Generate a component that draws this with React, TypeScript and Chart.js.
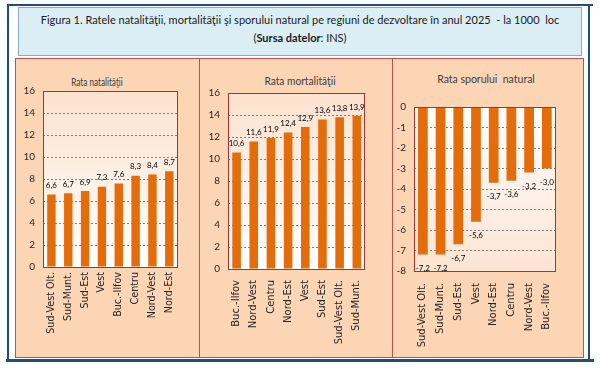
import React, { useEffect, useRef } from 'react';
import { Chart, registerables } from 'chart.js';
Chart.register(...registerables);

const birthRegions = ['Sud-Vest Olt.', 'Sud-Munt.', 'Sud-Est', 'Vest', 'Buc.-Ilfov', 'Centru', 'Nord-Vest', 'Nord-Est'];
const birthRates = [6.6, 6.7, 6.9, 7.3, 7.6, 8.3, 8.4, 8.7];
const deathRegions = ['Buc.-Ilfov', 'Nord-Vest', 'Centru', 'Nord-Est', 'Vest', 'Sud-Est', 'Sud-Vest Olt.', 'Sud-Munt.'];
const deathRates = [10.6, 11.6, 11.9, 12.4, 12.9, 13.6, 13.8, 13.9];
const growthRegions = ['Sud-Vest Olt.', 'Sud-Munt.', 'Sud-Est', 'Vest', 'Nord-Est', 'Centru', 'Nord-Vest', 'Buc.-Ilfov'];
const growthRates = [-7.2, -7.2, -6.7, -5.6, -3.7, -3.6, -3.2, -3.0];

const mainTitle = 'Figura 1. Ratele natalităţii, mortalităţii şi sporului natural pe regiuni de dezvoltare în anul 2025  - la 1000  loc';
const panelTitles = ['Rata natalităţii', 'Rata mortalităţii', 'Rata sporului  natural'];

const FONT = '"Lato", "Liberation Sans", sans-serif';
const CAT_FONT = '"DejaVu Sans", sans-serif';
const BAR = '#E46C0A';
const PANEL_BG = '#FCD5B4';
const PANEL_BORDER = '#C0504D';

const fmt = (v: number) => v.toFixed(1).replace('.', ',');

type Cfg = {
  labels: string[];
  values: number[];
  min: number;
  max: number;
  step: number;
  barPct: number;
  padTop: number;
  padRight: number;
  yWidth: number;
  xHeight: number;
  xPad: number;
  catSize: number;
  gradTopWhite: boolean;
};

const plotPlugin = {
  id: 'plotDecor',
  beforeDraw(chart: any, _a: any, opts: any) {
    const { ctx, chartArea: a } = chart;
    const g = ctx.createLinearGradient(0, a.top, 0, a.bottom);
    if (opts.topWhite) {
      g.addColorStop(0, '#FFFFFF');
      g.addColorStop(1, '#FCE4D2');
    } else {
      g.addColorStop(0, '#FCE2CE');
      g.addColorStop(1, '#FFFFFF');
    }
    ctx.save();
    ctx.fillStyle = g;
    ctx.fillRect(a.left, a.top, a.right - a.left, a.bottom - a.top);
    ctx.restore();
  },
  afterDatasetsDraw(chart: any) {
    const { ctx, chartArea: a } = chart;
    ctx.save();
    ctx.strokeStyle = '#A8322D';
    ctx.lineWidth = 1;
    ctx.strokeRect(Math.round(a.left) + 0.5, Math.round(a.top) + 0.5, Math.round(a.right - a.left) - 1, Math.round(a.bottom - a.top));
    const meta = chart.getDatasetMeta(0);
    const data = chart.data.datasets[0].data as number[];
    ctx.fillStyle = '#000';
    ctx.font = '8px ' + FONT;
    ctx.textAlign = 'center';
    ctx.textBaseline = 'middle';
    meta.data.forEach((el: any, i: number) => {
      const v = data[i];
      const y = v >= 0 ? el.y - 9 : el.y + 14;
      ctx.fillText(fmt(v), el.x, y);
    });
    ctx.restore();
  },
};

function BarPanel({ cfg, left, top, width, height }: { cfg: Cfg; left: number; top: number; width: number; height: number }) {
  const ref = useRef<HTMLCanvasElement>(null);
  useEffect(() => {
    if (!ref.current) return;
    const chart = new Chart(ref.current, {
      type: 'bar',
      data: {
        labels: cfg.labels,
        datasets: [
          {
            data: cfg.values,
            backgroundColor: BAR,
            borderWidth: 0,
            barPercentage: cfg.barPct,
            categoryPercentage: 1,
          },
        ],
      },
      plugins: [plotPlugin],
      options: {
        animation: false,
        responsive: false,
        maintainAspectRatio: false,
        layout: { padding: { top: cfg.padTop, right: cfg.padRight, left: 0, bottom: 0 } },
        plugins: {
          legend: { display: false },
          tooltip: { enabled: false },
          title: { display: false },
          plotDecor: { topWhite: cfg.gradTopWhite },
        } as any,
        scales: {
          x: {
            grid: { display: false, drawTicks: false },
            border: { display: false },
            ticks: {
              minRotation: 90,
              maxRotation: 90,
              autoSkip: false,
              padding: cfg.xPad,
              color: '#262626',
              font: { family: CAT_FONT, size: cfg.catSize },
            },
            afterFit: (s: any) => {
              s.height = cfg.xHeight;
            },
          },
          y: {
            min: cfg.min,
            max: cfg.max,
            ticks: {
              stepSize: cfg.step,
              padding: 8,
              color: '#262626',
              font: { family: FONT, size: 10 },
            },
            grid: { color: '#7F7F7F', drawTicks: false, lineWidth: 1 },
            border: { display: false, dash: [2, 2] },
            afterFit: (s: any) => {
              s.width = cfg.yWidth;
            },
          },
        },
      } as any,
    });
    return () => chart.destroy();
  }, []);
  return (
    <canvas
      ref={ref}
      width={width}
      height={height}
      style={{ position: 'absolute', left, top, width, height }}
    />
  );
}

const abs = (l: number, t: number, w: number, h: number, extra: any = {}) => ({
  position: 'absolute' as const,
  left: l,
  top: t,
  width: w,
  height: h,
  boxSizing: 'border-box' as const,
  ...extra,
});

export default function App() {
  const c1: Cfg = { labels: birthRegions, values: birthRates, min: 0, max: 16, step: 2, barPct: 0.5, padTop: 31, padRight: 3, yWidth: 32, xHeight: 88, xPad: 5, catSize: 9.6, gradTopWhite: false };
  const c2: Cfg = { labels: deathRegions, values: deathRates, min: 0, max: 16, step: 2, barPct: 0.5, padTop: 33, padRight: 3, yWidth: 28, xHeight: 86, xPad: 11, catSize: 10, gradTopWhite: false };
  const c3: Cfg = { labels: growthRegions, values: growthRates, min: -8, max: 0, step: 1, barPct: 0.55, padTop: 47, padRight: 3, yWidth: 21, xHeight: 84, xPad: 12, catSize: 10, gradTopWhite: true };

  const titleStyle = (cx: number, cy: number, sx: number) =>
    abs(cx - 90, cy - 7, 180, 14, {
      textAlign: 'center',
      lineHeight: '14px',
      fontSize: 10.5,
      color: '#404040',
      whiteSpace: 'pre',
      transform: `scaleX(${sx})`,
    });

  return (
    <div style={{ position: 'fixed', left: 0, top: 0, width: 600, height: 370, background: '#fff', fontFamily: FONT, overflow: 'hidden' }}>
      <div style={abs(7, 4, 586, 2, { background: '#1F4E79' })} />
      <div style={abs(7, 4, 2, 358, { background: '#1F4E79' })} />
      <div style={abs(588, 4, 2, 357, { background: '#1F4E79' })} />
      <div style={abs(6, 359, 588, 3, { background: '#1F4E79' })} />
      <div style={abs(18, 7, 564, 49, { background: '#DBEEF4', border: '1px solid #8EA9C4' })} />
      <div style={abs(18, 13, 564, 14, { textAlign: 'center', fontSize: 11, lineHeight: '14px', color: '#1a1a1a', whiteSpace: 'pre' })}>{mainTitle}</div>
      <div style={abs(18, 31, 564, 14, { textAlign: 'center', fontSize: 11, lineHeight: '14px', color: '#1a1a1a' })}>
        (<b>Sursa datelor</b>: INS)
      </div>
      <div style={abs(15, 58, 185, 300, { background: PANEL_BG, border: '1px solid ' + PANEL_BORDER })} />
      <div style={abs(199, 58, 194, 300, { background: PANEL_BG, border: '1px solid ' + PANEL_BORDER })} />
      <div style={abs(392, 58, 192, 300, { background: PANEL_BG, border: '1px solid ' + PANEL_BORDER })} />
      <div style={titleStyle(97, 82, 0.78)}>{panelTitles[0]}</div>
      <div style={titleStyle(300, 81, 0.97)}>{panelTitles[1]}</div>
      <div style={titleStyle(486, 79, 1)}>{panelTitles[2]}</div>
      <BarPanel cfg={c1} left={11} top={60} width={175} height={295} />
      <BarPanel cfg={c2} left={200} top={60} width={180} height={295} />
      <BarPanel cfg={c3} left={393} top={60} width={178} height={295} />
    </div>
  );
}
